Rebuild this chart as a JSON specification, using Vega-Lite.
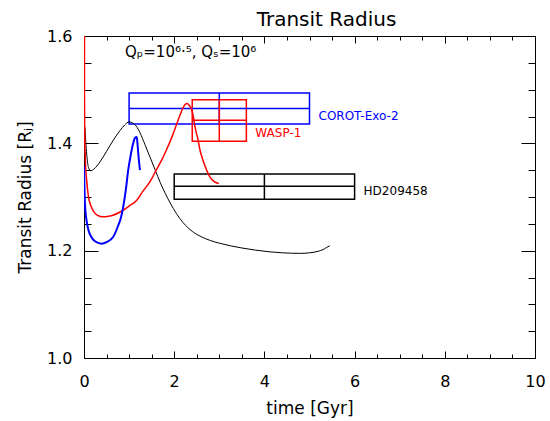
{
  "$schema": "https://vega.github.io/schema/vega-lite/v6.json",
  "width": 451,
  "height": 322,
  "autosize": {"type": "none"},
  "padding": {"left": 84, "top": 36, "right": 15, "bottom": 63},
  "background": "white",
  "config": {
    "view": {"stroke": null},
    "font": "DejaVu Sans",
    "axis": {
      "grid": false,
      "domainColor": "black",
      "domainWidth": 1,
      "tickColor": "black",
      "tickWidth": 1,
      "labelColor": "black",
      "titleColor": "black",
      "labelFont": "DejaVu Sans",
      "titleFont": "DejaVu Sans",
      "titleFontWeight": "normal",
      "labelFontSize": 16,
      "titleFontSize": 17
    }
  },
  "title": {"text": "Transit Radius", "fontSize": 20, "fontWeight": "normal", "font": "DejaVu Sans", "color": "black", "anchor": "middle", "dx": 17, "offset": -2},
  "datasets": {
    "curves": [
      {"model": "black", "i": 1, "t": 0.02, "R": 1.43},
      {"model": "black", "i": 2, "t": 0.06, "R": 1.38},
      {"model": "black", "i": 3, "t": 0.1, "R": 1.355},
      {"model": "black", "i": 4, "t": 0.15, "R": 1.349},
      {"model": "black", "i": 5, "t": 0.22, "R": 1.352},
      {"model": "black", "i": 6, "t": 0.35, "R": 1.365},
      {"model": "black", "i": 7, "t": 0.5, "R": 1.385},
      {"model": "black", "i": 8, "t": 0.65, "R": 1.406},
      {"model": "black", "i": 9, "t": 0.8, "R": 1.424},
      {"model": "black", "i": 10, "t": 0.9, "R": 1.434},
      {"model": "black", "i": 11, "t": 1.0, "R": 1.44},
      {"model": "black", "i": 12, "t": 1.08, "R": 1.438},
      {"model": "black", "i": 13, "t": 1.16, "R": 1.432},
      {"model": "black", "i": 14, "t": 1.24, "R": 1.42},
      {"model": "black", "i": 15, "t": 1.35, "R": 1.398},
      {"model": "black", "i": 16, "t": 1.46, "R": 1.375},
      {"model": "black", "i": 17, "t": 1.58, "R": 1.35},
      {"model": "black", "i": 18, "t": 1.69, "R": 1.327},
      {"model": "black", "i": 19, "t": 1.8, "R": 1.307},
      {"model": "black", "i": 20, "t": 1.91, "R": 1.289},
      {"model": "black", "i": 21, "t": 2.05, "R": 1.269},
      {"model": "black", "i": 22, "t": 2.2, "R": 1.252},
      {"model": "black", "i": 23, "t": 2.4, "R": 1.236},
      {"model": "black", "i": 24, "t": 2.6, "R": 1.226},
      {"model": "black", "i": 25, "t": 2.8, "R": 1.219},
      {"model": "black", "i": 26, "t": 3.0, "R": 1.214},
      {"model": "black", "i": 27, "t": 3.25, "R": 1.209},
      {"model": "black", "i": 28, "t": 3.5, "R": 1.205},
      {"model": "black", "i": 29, "t": 3.8, "R": 1.201},
      {"model": "black", "i": 30, "t": 4.1, "R": 1.198},
      {"model": "black", "i": 31, "t": 4.4, "R": 1.196},
      {"model": "black", "i": 32, "t": 4.8, "R": 1.195},
      {"model": "black", "i": 33, "t": 5.0, "R": 1.196},
      {"model": "black", "i": 34, "t": 5.2, "R": 1.199},
      {"model": "black", "i": 35, "t": 5.3, "R": 1.202},
      {"model": "black", "i": 36, "t": 5.38, "R": 1.206},
      {"model": "black", "i": 37, "t": 5.45, "R": 1.209},
      {"model": "red", "i": 1, "t": 0.01, "R": 1.65},
      {"model": "red", "i": 2, "t": 0.01, "R": 1.5},
      {"model": "red", "i": 3, "t": 0.015, "R": 1.42},
      {"model": "red", "i": 4, "t": 0.03, "R": 1.37},
      {"model": "red", "i": 5, "t": 0.06, "R": 1.33},
      {"model": "red", "i": 6, "t": 0.1, "R": 1.3},
      {"model": "red", "i": 7, "t": 0.15, "R": 1.284},
      {"model": "red", "i": 8, "t": 0.24, "R": 1.27},
      {"model": "red", "i": 9, "t": 0.32, "R": 1.265},
      {"model": "red", "i": 10, "t": 0.4, "R": 1.263},
      {"model": "red", "i": 11, "t": 0.55, "R": 1.264},
      {"model": "red", "i": 12, "t": 0.8, "R": 1.272},
      {"model": "red", "i": 13, "t": 1.0, "R": 1.283},
      {"model": "red", "i": 14, "t": 1.17, "R": 1.294},
      {"model": "red", "i": 15, "t": 1.3, "R": 1.31},
      {"model": "red", "i": 16, "t": 1.46, "R": 1.328},
      {"model": "red", "i": 17, "t": 1.6, "R": 1.35},
      {"model": "red", "i": 18, "t": 1.73, "R": 1.37},
      {"model": "red", "i": 19, "t": 1.83, "R": 1.388},
      {"model": "red", "i": 20, "t": 1.95, "R": 1.412},
      {"model": "red", "i": 21, "t": 2.06, "R": 1.437},
      {"model": "red", "i": 22, "t": 2.14, "R": 1.455},
      {"model": "red", "i": 23, "t": 2.2, "R": 1.467},
      {"model": "red", "i": 24, "t": 2.25, "R": 1.473},
      {"model": "red", "i": 25, "t": 2.29, "R": 1.474},
      {"model": "red", "i": 26, "t": 2.33, "R": 1.471},
      {"model": "red", "i": 27, "t": 2.39, "R": 1.462},
      {"model": "red", "i": 28, "t": 2.43, "R": 1.447},
      {"model": "red", "i": 29, "t": 2.46, "R": 1.431},
      {"model": "red", "i": 30, "t": 2.52, "R": 1.41},
      {"model": "red", "i": 31, "t": 2.57, "R": 1.388},
      {"model": "red", "i": 32, "t": 2.64, "R": 1.368},
      {"model": "red", "i": 33, "t": 2.72, "R": 1.35},
      {"model": "red", "i": 34, "t": 2.8, "R": 1.336},
      {"model": "red", "i": 35, "t": 2.88, "R": 1.329},
      {"model": "red", "i": 36, "t": 2.95, "R": 1.326},
      {"model": "red", "i": 37, "t": 2.99, "R": 1.325},
      {"model": "blue", "i": 1, "t": 0.0, "R": 1.357},
      {"model": "blue", "i": 2, "t": 0.01, "R": 1.32},
      {"model": "blue", "i": 3, "t": 0.02, "R": 1.289},
      {"model": "blue", "i": 4, "t": 0.05, "R": 1.26},
      {"model": "blue", "i": 5, "t": 0.1, "R": 1.238},
      {"model": "blue", "i": 6, "t": 0.16, "R": 1.226},
      {"model": "blue", "i": 7, "t": 0.21, "R": 1.22},
      {"model": "blue", "i": 8, "t": 0.3, "R": 1.215},
      {"model": "blue", "i": 9, "t": 0.39, "R": 1.213},
      {"model": "blue", "i": 10, "t": 0.5, "R": 1.216},
      {"model": "blue", "i": 11, "t": 0.65, "R": 1.226},
      {"model": "blue", "i": 12, "t": 0.75, "R": 1.245},
      {"model": "blue", "i": 13, "t": 0.82, "R": 1.262},
      {"model": "blue", "i": 14, "t": 0.87, "R": 1.282},
      {"model": "blue", "i": 15, "t": 0.93, "R": 1.315},
      {"model": "blue", "i": 16, "t": 0.98, "R": 1.35},
      {"model": "blue", "i": 17, "t": 1.04, "R": 1.38},
      {"model": "blue", "i": 18, "t": 1.09, "R": 1.4},
      {"model": "blue", "i": 19, "t": 1.13, "R": 1.41},
      {"model": "blue", "i": 20, "t": 1.17, "R": 1.412},
      {"model": "blue", "i": 21, "t": 1.19, "R": 1.395},
      {"model": "blue", "i": 22, "t": 1.21, "R": 1.375},
      {"model": "blue", "i": 23, "t": 1.24, "R": 1.35}
    ],
    "boxes": [
      {"name": "COROT-Exo-2", "t": 3.0, "t0": 1.0, "t1": 5.0, "R": 1.465, "R0": 1.436, "R1": 1.494},
      {"name": "WASP-1", "t": 3.0, "t0": 2.4, "t1": 3.6, "R": 1.443, "R0": 1.404, "R1": 1.481},
      {"name": "HD209458", "t": 4.0, "t0": 2.0, "t1": 6.0, "R": 1.32, "R0": 1.296, "R1": 1.343}
    ],
    "note": [
      {"text": "Qₚ=10⁶·⁵,  Qₛ=10⁶", "t": 0.91, "R": 1.57}
    ]
  },
  "resolve": {"axis": {"x": "independent", "y": "independent"}},
  "layer": [
    {
      "data": {"name": "boxes"},
      "mark": {"type": "rect", "filled": false, "strokeWidth": 1.5},
      "encoding": {
        "x": {"field": "t0", "type": "quantitative", "scale": {"domain": [0, 10], "nice": false, "zero": false},
          "axis": {"orient": "bottom", "values": [0, 0.5, 1, 1.5, 2, 2.5, 3, 3.5, 4, 4.5, 5, 5.5, 6, 6.5, 7, 7.5, 8, 8.5, 9, 9.5, 10],
            "labelExpr": "datum.value % 2 === 0 ? format(datum.value, 'd') : ''",
            "labelFlush": false, "labelOverlap": false,
            "tickSize": {"condition": {"test": "datum.value % 2 === 0", "value": -7}, "value": -4},
            "labelPadding": 22, "title": "time [Gyr]", "titlePadding": 8}},
        "x2": {"field": "t1"},
        "y": {"field": "R0", "type": "quantitative", "scale": {"domain": [1.0, 1.6], "nice": false, "zero": false},
          "axis": {"orient": "left", "values": [1.0, 1.05, 1.1, 1.15, 1.2, 1.25, 1.3, 1.35, 1.4, 1.45, 1.5, 1.55, 1.6],
            "labelExpr": "round(datum.value * 100) % 20 === 0 ? format(datum.value, '.1f') : ''",
            "labelOverlap": false, "labelFlush": false,
            "tickSize": {"condition": {"test": "round(datum.value * 100) % 20 === 0", "value": -14}, "value": -7},
            "labelPadding": 26, "title": "Transit Radius [Rⱼ]", "titlePadding": 12}},
        "y2": {"field": "R1"},
        "color": {"field": "name", "type": "nominal", "scale": {"domain": ["COROT-Exo-2", "WASP-1", "HD209458"], "range": ["#0000ff", "#ff0000", "#000000"]}, "legend": null}
      }
    },
    {
      "data": {"name": "boxes"},
      "mark": {"type": "rule", "strokeWidth": 1.5},
      "encoding": {
        "x": {"field": "t0", "type": "quantitative", "scale": {"domain": [0, 10], "nice": false, "zero": false}, "axis": null},
        "x2": {"field": "t1"},
        "y": {"field": "R", "type": "quantitative", "scale": {"domain": [1.0, 1.6], "nice": false, "zero": false}, "axis": null},
        "color": {"field": "name", "type": "nominal", "scale": {"domain": ["COROT-Exo-2", "WASP-1", "HD209458"], "range": ["#0000ff", "#ff0000", "#000000"]}, "legend": null}
      }
    },
    {
      "data": {"name": "boxes"},
      "mark": {"type": "rule", "strokeWidth": 1.5},
      "encoding": {
        "x": {"field": "t", "type": "quantitative", "scale": {"domain": [0, 10], "nice": false, "zero": false}, "axis": null},
        "y": {"field": "R0", "type": "quantitative", "scale": {"domain": [1.0, 1.6], "nice": false, "zero": false}, "axis": null},
        "y2": {"field": "R1"},
        "color": {"field": "name", "type": "nominal", "scale": {"domain": ["COROT-Exo-2", "WASP-1", "HD209458"], "range": ["#0000ff", "#ff0000", "#000000"]}, "legend": null}
      }
    },
    {
      "data": {"name": "curves"},
      "mark": {"type": "line", "clip": true, "interpolate": "monotone"},
      "encoding": {
        "x": {"field": "t", "type": "quantitative", "scale": {"domain": [0, 10], "nice": false, "zero": false},
          "axis": {"orient": "top", "values": [0, 0.5, 1, 1.5, 2, 2.5, 3, 3.5, 4, 4.5, 5, 5.5, 6, 6.5, 7, 7.5, 8, 8.5, 9, 9.5, 10],
            "labels": false, "title": null,
            "tickSize": {"condition": {"test": "datum.value % 2 === 0", "value": -7}, "value": -4}}},
        "y": {"field": "R", "type": "quantitative", "scale": {"domain": [1.0, 1.6], "nice": false, "zero": false},
          "axis": {"orient": "right", "values": [1.0, 1.05, 1.1, 1.15, 1.2, 1.25, 1.3, 1.35, 1.4, 1.45, 1.5, 1.55, 1.6],
            "labels": false, "title": null,
            "tickSize": {"condition": {"test": "round(datum.value * 100) % 20 === 0", "value": -14}, "value": -7}}},
        "order": {"field": "i", "type": "quantitative"},
        "detail": {"field": "model"},
        "stroke": {"field": "model", "type": "nominal", "scale": {"domain": ["black", "red", "blue"], "range": ["#000000", "#ff0000", "#0000ff"]}, "legend": null},
        "strokeWidth": {"field": "model", "type": "nominal", "scale": {"domain": ["black", "red", "blue"], "range": [1, 2, 2]}, "legend": null}
      }
    },
    {
      "data": {"name": "boxes"},
      "mark": {"type": "text", "align": "left", "baseline": "alphabetic", "dx": 9, "dy": -4, "fontSize": 12, "font": "DejaVu Sans"},
      "encoding": {
        "x": {"field": "t1", "type": "quantitative", "scale": {"domain": [0, 10], "nice": false, "zero": false}, "axis": null},
        "y": {"field": "R0", "type": "quantitative", "scale": {"domain": [1.0, 1.6], "nice": false, "zero": false}, "axis": null},
        "text": {"field": "name"},
        "color": {"field": "name", "type": "nominal", "scale": {"domain": ["COROT-Exo-2", "WASP-1", "HD209458"], "range": ["#0000ff", "#ff0000", "#000000"]}, "legend": null}
      }
    },
    {
      "data": {"name": "note"},
      "mark": {"type": "text", "align": "left", "baseline": "middle", "fontSize": 15, "font": "DejaVu Sans", "color": "black"},
      "encoding": {
        "x": {"field": "t", "type": "quantitative", "scale": {"domain": [0, 10], "nice": false, "zero": false}, "axis": null},
        "y": {"field": "R", "type": "quantitative", "scale": {"domain": [1.0, 1.6], "nice": false, "zero": false}, "axis": null},
        "text": {"field": "text"}
      }
    }
  ]
}
